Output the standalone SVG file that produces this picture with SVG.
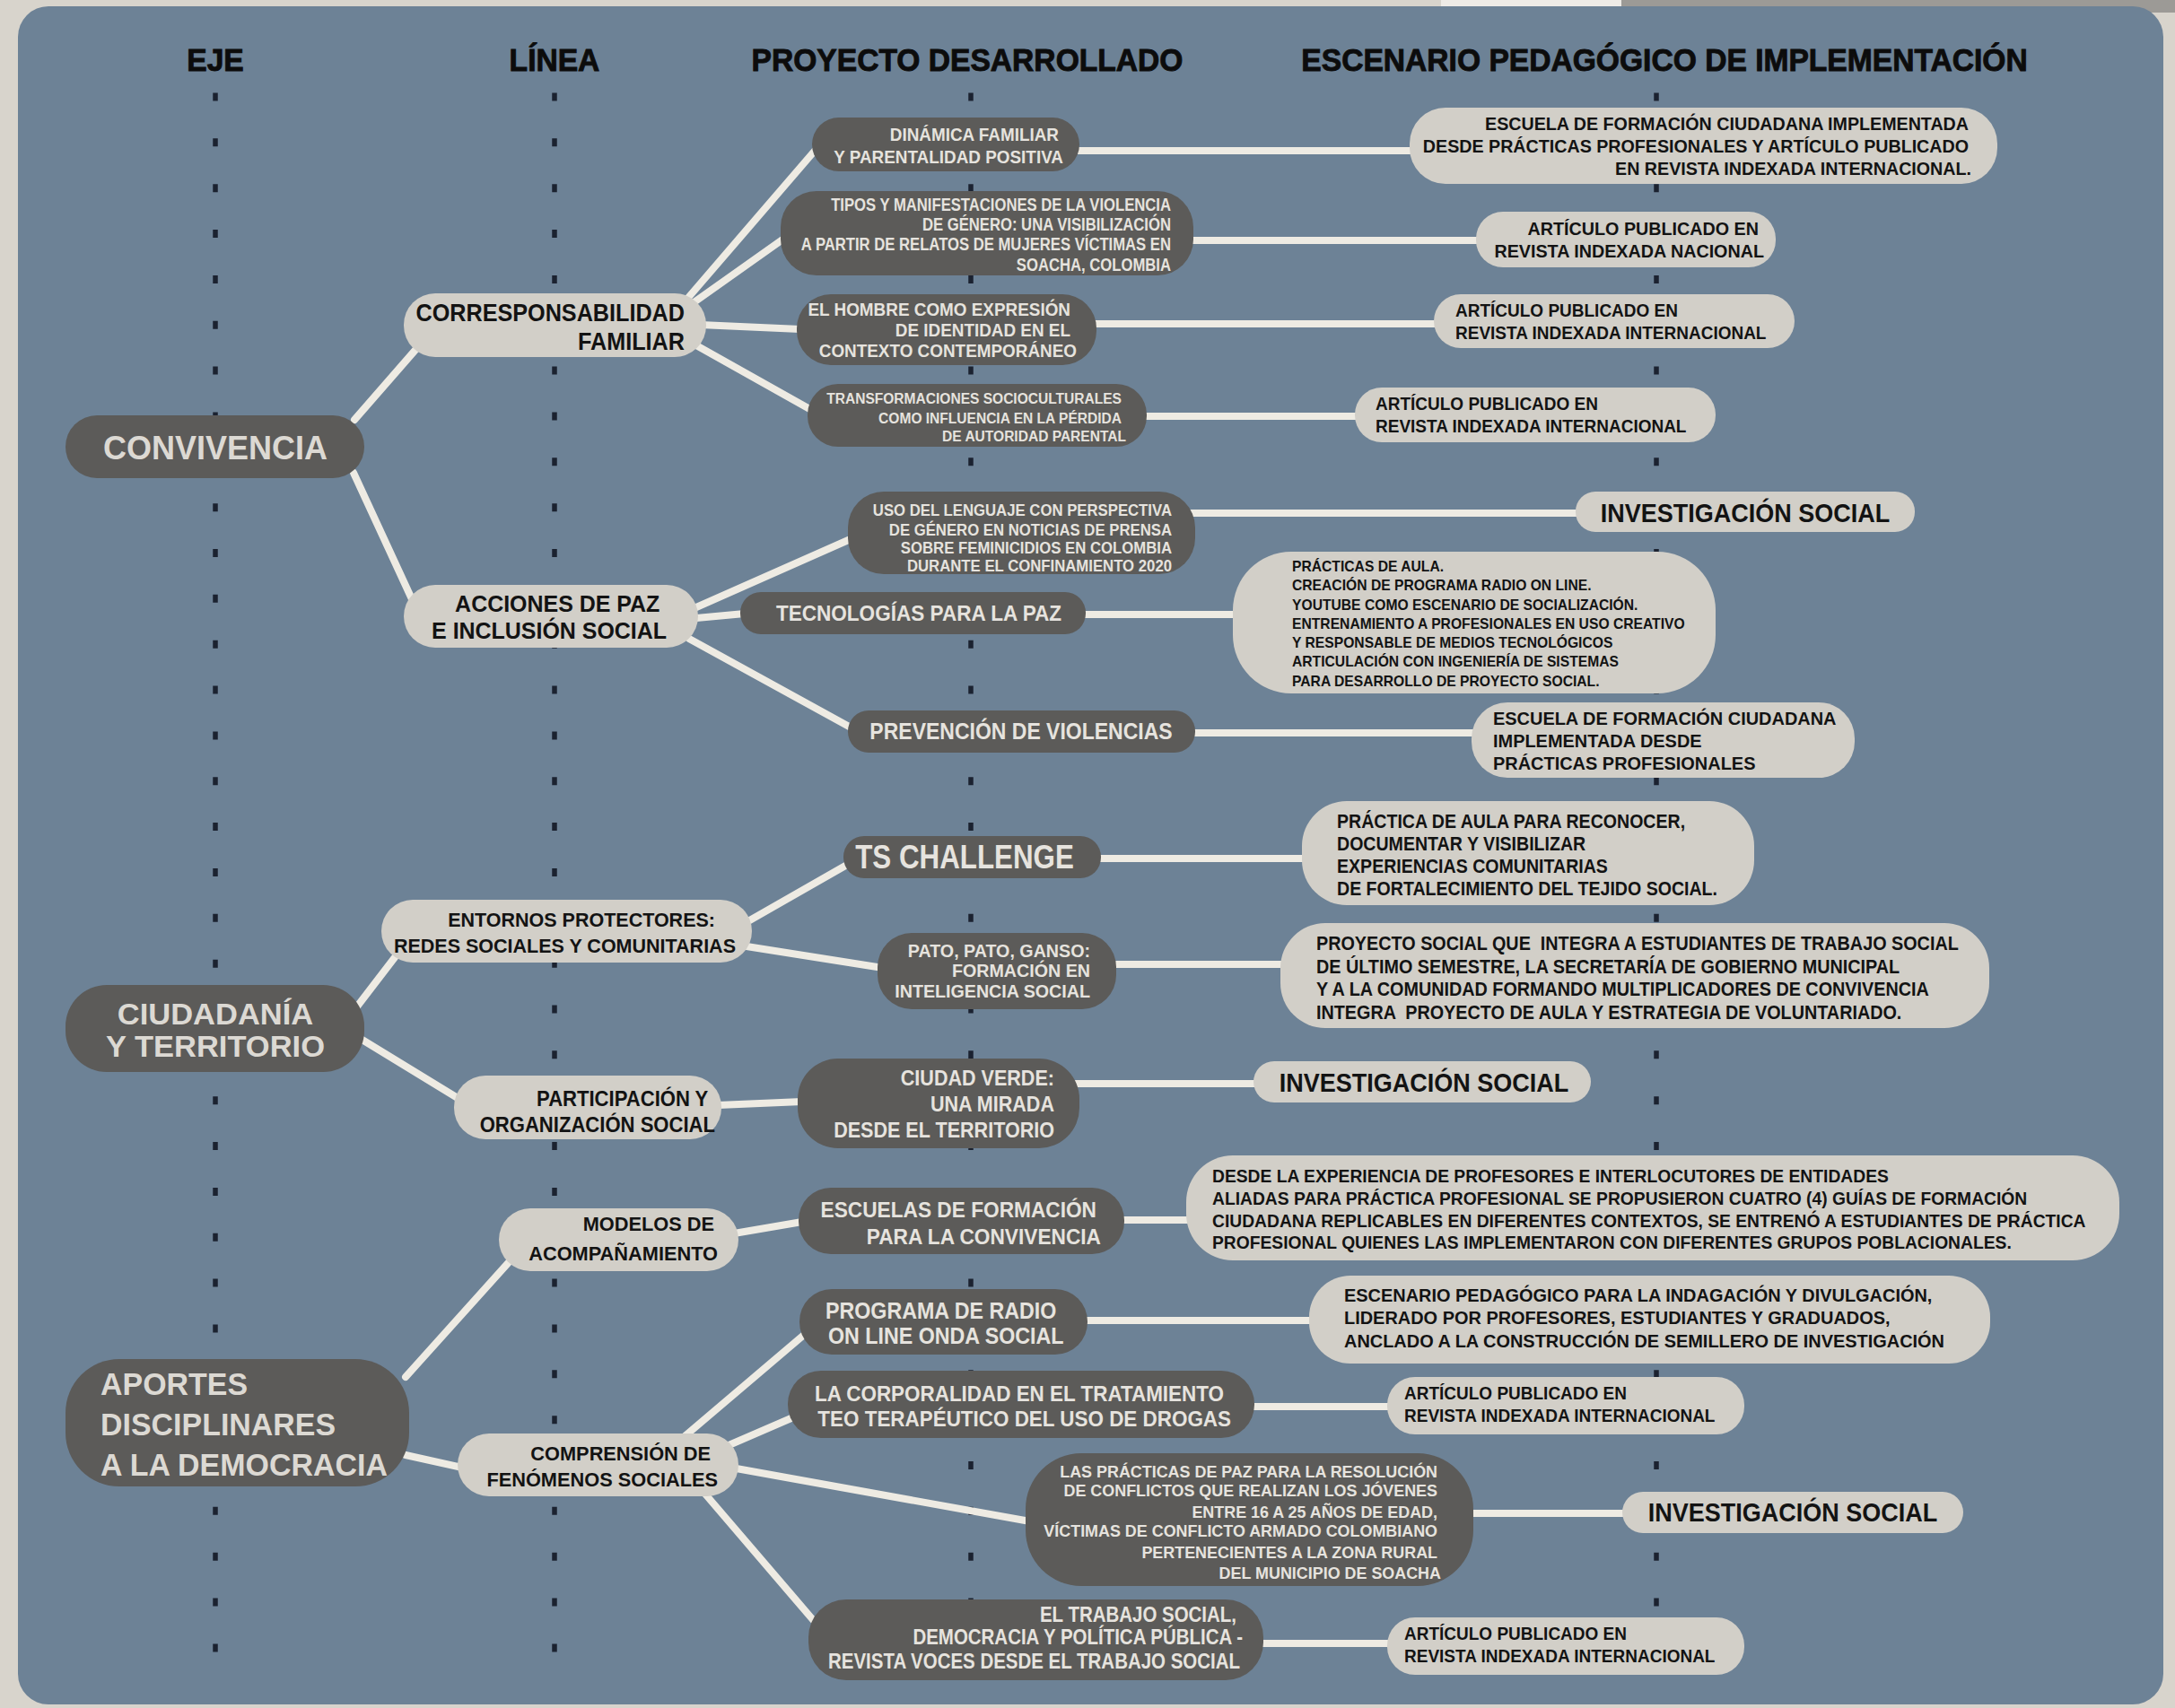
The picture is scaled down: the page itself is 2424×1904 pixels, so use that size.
<svg xmlns="http://www.w3.org/2000/svg" width="2424" height="1904" viewBox="0 0 2424 1904">
<style>
.lt{fill:#d2cfc8}
.dk{fill:#5c5b59}
.h{font-family:"Liberation Sans",Arial,sans-serif;font-weight:700;font-size:35px;fill:#0c0c0c;stroke:#0c0c0c;stroke-width:0.9;text-anchor:middle}
.e{font-family:"Liberation Sans",Arial,sans-serif;font-weight:700;fill:#dcd9d3}
.n{font-family:"Liberation Sans",Arial,sans-serif;font-weight:700}
.tl{fill:#131313}
.td{fill:#e6e3de}
.end{text-anchor:end}
.mid{text-anchor:middle}
#connectors line{stroke:#eeebe3;stroke-width:8;stroke-linecap:round}
.guide{stroke:#1b2230;stroke-width:5.5;stroke-dasharray:9 41.85}
</style>
<rect x="0" y="0" width="2424" height="1904" fill="#d8d4cc"/>
<rect x="1606" y="0" width="201" height="14" fill="#eeebe6"/>
<rect x="1807" y="0" width="617" height="14" fill="#9c9a96"/>
<rect x="20" y="7" width="2391" height="1893" rx="34" fill="#6d8296"/>
<g id="guides">
<line class="guide" x1="240" y1="103.5" x2="240" y2="1850"/>
<line class="guide" x1="618" y1="103.5" x2="618" y2="1850"/>
<line class="guide" x1="1082" y1="103.5" x2="1082" y2="1850"/>
<line class="guide" x1="1846" y1="103.5" x2="1846" y2="1850"/>
</g>
<g id="headers">
<text class="h" transform="translate(240 0) scale(0.96 1)" x="0" y="79">EJE</text>
<text class="h" transform="translate(618 0) scale(0.96 1)" x="0" y="79">LÍNEA</text>
<text class="h" transform="translate(1078 0) scale(0.96 1)" x="0" y="79">PROYECTO DESARROLLADO</text>
<text class="h" transform="translate(1855 0) scale(0.96 1)" x="0" y="79">ESCENARIO PEDAGÓGICO DE IMPLEMENTACIÓN</text>
</g>
<g id="connectors">
<line x1="395" y1="468" x2="470" y2="382"/>
<line x1="394" y1="527" x2="460" y2="670"/>
<line x1="398" y1="1122" x2="444" y2="1062"/>
<line x1="402" y1="1158" x2="510" y2="1224"/>
<line x1="452" y1="1535" x2="568" y2="1406"/>
<line x1="452" y1="1622" x2="515" y2="1636"/>
<line x1="766" y1="333" x2="908" y2="168"/>
<line x1="772" y1="338" x2="875" y2="265"/>
<line x1="780" y1="362" x2="892" y2="367"/>
<line x1="776" y1="385" x2="906" y2="458"/>
<line x1="776" y1="677" x2="950" y2="600"/>
<line x1="776" y1="689" x2="830" y2="684"/>
<line x1="768" y1="712" x2="950" y2="812"/>
<line x1="832" y1="1028" x2="944" y2="964"/>
<line x1="832" y1="1055" x2="984" y2="1079"/>
<line x1="800" y1="1232" x2="894" y2="1228"/>
<line x1="818" y1="1375" x2="894" y2="1362"/>
<line x1="762" y1="1602" x2="896" y2="1488"/>
<line x1="810" y1="1612" x2="884" y2="1580"/>
<line x1="815" y1="1636" x2="1148" y2="1696"/>
<line x1="783" y1="1662" x2="908" y2="1808"/>
<line x1="1200" y1="168" x2="1575" y2="168"/>
<line x1="1325" y1="268" x2="1650" y2="268"/>
<line x1="1218" y1="361" x2="1602" y2="361"/>
<line x1="1274" y1="464" x2="1514" y2="464"/>
<line x1="1328" y1="572" x2="1760" y2="572"/>
<line x1="1206" y1="685" x2="1380" y2="685"/>
<line x1="1328" y1="817" x2="1645" y2="817"/>
<line x1="1223" y1="957" x2="1456" y2="957"/>
<line x1="1240" y1="1075" x2="1432" y2="1075"/>
<line x1="1199" y1="1208" x2="1401" y2="1208"/>
<line x1="1249" y1="1360" x2="1327" y2="1360"/>
<line x1="1208" y1="1472" x2="1463" y2="1472"/>
<line x1="1394" y1="1568" x2="1550" y2="1568"/>
<line x1="1638" y1="1687" x2="1812" y2="1687"/>
<line x1="1404" y1="1832" x2="1550" y2="1832"/>
</g>
<g id="n-convivencia"><rect class="dk" x="73" y="463" width="333" height="70" rx="35"/>
<text class="e mid" font-size="36" x="240" y="512">CONVIVENCIA</text></g>
<g id="n-ciudadania"><rect class="dk" x="73" y="1098" width="333" height="97" rx="46"/>
<text class="e mid" font-size="33.5" transform="translate(240 0) scale(1.03 1)"><tspan x="0" y="1142">CIUDADANÍA</tspan><tspan x="0" y="1178">Y TERRITORIO</tspan></text></g>
<g id="n-aportes"><rect class="dk" x="73" y="1515" width="383" height="142" rx="60"/>
<text class="e" font-size="35" transform="translate(112 0) scale(0.97 1)"><tspan x="0" y="1555">APORTES</tspan><tspan x="0" y="1600">DISCIPLINARES</tspan><tspan x="0" y="1645">A LA DEMOCRACIA</tspan></text></g>
<g id="n-corresponsabilidad"><rect class="lt" x="450" y="327" width="337" height="71" rx="35"/>
<text class="n tl end" font-size="28" transform="translate(763 0) scale(0.9 1)"><tspan x="0" y="358">CORRESPONSABILIDAD</tspan><tspan x="0" y="390">FAMILIAR</tspan></text></g>
<g id="n-acciones"><rect class="lt" x="450" y="652" width="328" height="70" rx="35"/>
<text class="n tl end" font-size="26" transform="translate(743 0) scale(0.96 1)"><tspan x="-8" y="682">ACCIONES DE PAZ</tspan><tspan x="0" y="712">E INCLUSIÓN SOCIAL</tspan></text></g>
<g id="n-entornos"><rect class="lt" x="425" y="1003" width="413" height="70" rx="35"/>
<text class="n tl end" font-size="21.5" transform="translate(820 0)"><tspan x="-23" y="1033">ENTORNOS PROTECTORES:</tspan><tspan x="0" y="1062">REDES SOCIALES Y COMUNITARIAS</tspan></text></g>
<g id="n-participacion"><rect class="lt" x="506" y="1199" width="298" height="71" rx="35"/>
<text class="n tl end" font-size="23" transform="translate(797 0) scale(0.96 1)"><tspan x="-8" y="1233">PARTICIPACIÓN Y</tspan><tspan x="0" y="1262">ORGANIZACIÓN SOCIAL</tspan></text></g>
<g id="n-modelos"><rect class="lt" x="556" y="1347" width="267" height="70" rx="35"/>
<text class="n tl end" font-size="22" transform="translate(800 0) scale(0.99 1)"><tspan x="-4" y="1372">MODELOS DE</tspan><tspan x="0" y="1405">ACOMPAÑAMIENTO</tspan></text></g>
<g id="n-comprension"><rect class="lt" x="510" y="1598" width="313" height="70" rx="35"/>
<text class="n tl end" font-size="22" transform="translate(800 0) scale(0.99 1)"><tspan x="-8" y="1628">COMPRENSIÓN DE</tspan><tspan x="0" y="1657">FENÓMENOS SOCIALES</tspan></text></g>
<g id="n-dinamica"><rect class="dk" x="905" y="131" width="298" height="60" rx="30"/>
<text class="n td end" font-size="21" transform="translate(1185 0) scale(0.9 1)"><tspan x="-5.6" y="157">DINÁMICA FAMILIAR</tspan><tspan x="0" y="182">Y PARENTALIDAD POSITIVA</tspan></text></g>
<g id="n-tipos"><rect class="dk" x="870" y="213" width="460" height="94" rx="40"/>
<text class="n td end" font-size="19.5" transform="translate(1305 0) scale(0.855 1)"><tspan x="0" y="235">TIPOS Y MANIFESTACIONES DE LA VIOLENCIA</tspan><tspan x="0" y="257">DE GÉNERO: UNA VISIBILIZACIÓN</tspan><tspan x="0" y="279">A PARTIR DE RELATOS DE MUJERES VÍCTIMAS EN</tspan><tspan x="0" y="302">SOACHA, COLOMBIA</tspan></text></g>
<g id="n-hombre"><rect class="dk" x="888" y="328" width="334" height="79" rx="38"/>
<text class="n td end" font-size="21" transform="translate(1200 0) scale(0.9 1)"><tspan x="-7.8" y="352">EL HOMBRE COMO EXPRESIÓN</tspan><tspan x="-7.8" y="375">DE IDENTIDAD EN EL</tspan><tspan x="0" y="398">CONTEXTO CONTEMPORÁNEO</tspan></text></g>
<g id="n-transformaciones"><rect class="dk" x="900" y="428" width="378" height="70" rx="34"/>
<text class="n td end" font-size="17" transform="translate(1255 0) scale(0.915 1)"><tspan x="-5.5" y="450">TRANSFORMACIONES SOCIOCULTURALES</tspan><tspan x="-5.5" y="472">COMO INFLUENCIA EN LA PÉRDIDA</tspan><tspan x="0" y="492">DE AUTORIDAD PARENTAL</tspan></text></g>
<g id="n-uso"><rect class="dk" x="945" y="548" width="387" height="92" rx="40"/>
<text class="n td end" font-size="18.6" transform="translate(1306 0) scale(0.9 1)"><tspan x="0" y="575">USO DEL LENGUAJE CON PERSPECTIVA</tspan><tspan x="0" y="597">DE GÉNERO EN NOTICIAS DE PRENSA</tspan><tspan x="0" y="617">SOBRE FEMINICIDIOS EN COLOMBIA</tspan><tspan x="0" y="637">DURANTE EL CONFINAMIENTO 2020</tspan></text></g>
<g id="n-tecnologias"><rect class="dk" x="825" y="660" width="385" height="47" rx="23"/>
<text class="n td mid" font-size="24" transform="translate(1024 0) scale(0.94 1)" x="0" y="692">TECNOLOGÍAS PARA LA PAZ</text></g>
<g id="n-prevencion"><rect class="dk" x="945" y="792" width="387" height="47" rx="23"/>
<text class="n td mid" font-size="25" transform="translate(1138 0) scale(0.92 1)" x="0" y="824">PREVENCIÓN DE VIOLENCIAS</text></g>
<g id="n-ts"><rect class="dk" x="940" y="932" width="287" height="47" rx="23"/>
<text class="n td mid" font-size="36" transform="translate(1075 0) scale(0.87 1)" x="0" y="968">TS CHALLENGE</text></g>
<g id="n-pato"><rect class="dk" x="978" y="1040" width="266" height="85" rx="38"/>
<text class="n td end" font-size="20.5" transform="translate(1215 0) scale(0.96 1)"><tspan x="0" y="1067">PATO, PATO, GANSO:</tspan><tspan x="0" y="1089">FORMACIÓN EN</tspan><tspan x="0" y="1112">INTELIGENCIA SOCIAL</tspan></text></g>
<g id="n-ciudadverde"><rect class="dk" x="889" y="1180" width="314" height="100" rx="45"/>
<text class="n td end" font-size="23.7" transform="translate(1175 0) scale(0.91 1)"><tspan x="0" y="1210">CIUDAD VERDE:</tspan><tspan x="0" y="1239">UNA MIRADA</tspan><tspan x="0" y="1268">DESDE EL TERRITORIO</tspan></text></g>
<g id="n-escuelas"><rect class="dk" x="890" y="1324" width="363" height="74" rx="36"/>
<text class="n td end" font-size="24.4" transform="translate(1227 0) scale(0.93 1)"><tspan x="-5.4" y="1357">ESCUELAS DE FORMACIÓN</tspan><tspan x="0" y="1387">PARA LA CONVIVENCIA</tspan></text></g>
<g id="n-programa"><rect class="dk" x="891" y="1437" width="321" height="73" rx="36"/>
<text class="n td" font-size="25" transform="translate(920 0) scale(0.93 1)"><tspan x="0" y="1470">PROGRAMA DE RADIO</tspan><tspan x="3.2" y="1498">ON LINE ONDA SOCIAL</tspan></text></g>
<g id="n-corporalidad"><rect class="dk" x="878" y="1528" width="520" height="75" rx="37"/>
<text class="n td end" font-size="24" transform="translate(1372 0) scale(0.935 1)"><tspan x="-8.6" y="1562">LA CORPORALIDAD EN EL TRATAMIENTO</tspan><tspan x="0" y="1590">TEO TERAPÉUTICO DEL USO DE DROGAS</tspan></text></g>
<g id="n-practicaspaz"><rect class="dk" x="1143" y="1620" width="499" height="148" rx="62"/>
<text class="n td end" font-size="19" transform="translate(1602 0) scale(0.943 1)"><tspan x="0" y="1647">LAS PRÁCTICAS DE PAZ PARA LA RESOLUCIÓN</tspan><tspan x="0" y="1668">DE CONFLICTOS QUE REALIZAN LOS JÓVENES</tspan><tspan x="0" y="1692">ENTRE 16 A 25 AÑOS DE EDAD,</tspan><tspan x="0" y="1713">VÍCTIMAS DE CONFLICTO ARMADO COLOMBIANO</tspan><tspan x="0" y="1737">PERTENECIENTES A LA ZONA RURAL</tspan><tspan x="4.2" y="1760">DEL MUNICIPIO DE SOACHA</tspan></text></g>
<g id="n-trabajo"><rect class="dk" x="901" y="1783" width="507" height="90" rx="42"/>
<text class="n td end" font-size="23" transform="translate(1382 0) scale(0.89 1)"><tspan x="-4.5" y="1808">EL TRABAJO SOCIAL,</tspan><tspan x="3.4" y="1833">DEMOCRACIA Y POLÍTICA PÚBLICA -</tspan><tspan x="0" y="1860">REVISTA VOCES DESDE EL TRABAJO SOCIAL</tspan></text></g>
<g id="n-esc1"><rect class="lt" x="1571" y="120" width="655" height="85" rx="40"/>
<text class="n tl end" font-size="20.5" transform="translate(2197 0) scale(0.96 1)"><tspan x="-3.1" y="145">ESCUELA DE FORMACIÓN CIUDADANA IMPLEMENTADA</tspan><tspan x="-3.1" y="170">DESDE PRÁCTICAS PROFESIONALES Y ARTÍCULO PUBLICADO</tspan><tspan x="0" y="195">EN REVISTA INDEXADA INTERNACIONAL.</tspan></text></g>
<g id="n-esc2"><rect class="lt" x="1645" y="236" width="334" height="62" rx="30"/>
<text class="n tl end" font-size="21" transform="translate(1966 0) scale(0.94 1)"><tspan x="-6.4" y="262">ARTÍCULO PUBLICADO EN</tspan><tspan x="0" y="287">REVISTA INDEXADA NACIONAL</tspan></text></g>
<g id="n-esc3"><rect class="lt" x="1598" y="328" width="402" height="60" rx="30"/>
<text class="n tl" font-size="21" transform="translate(1622 0) scale(0.905 1)"><tspan x="0" y="353">ARTÍCULO PUBLICADO EN</tspan><tspan x="0" y="378">REVISTA INDEXADA INTERNACIONAL</tspan></text></g>
<g id="n-esc4"><rect class="lt" x="1510" y="432" width="402" height="61" rx="30"/>
<text class="n tl" font-size="21" transform="translate(1533 0) scale(0.905 1)"><tspan x="0" y="457">ARTÍCULO PUBLICADO EN</tspan><tspan x="0" y="482">REVISTA INDEXADA INTERNACIONAL</tspan></text></g>
<g id="n-esc5"><rect class="lt" x="1756" y="548" width="378" height="45" rx="22"/>
<text class="n tl mid" font-size="30" transform="translate(1945 0) scale(0.9 1)" x="0" y="582">INVESTIGACIÓN SOCIAL</text></g>
<g id="n-esc6"><rect class="lt" x="1374" y="615" width="538" height="158" rx="65"/>
<text class="n tl" font-size="16.5" transform="translate(1440 0) scale(0.95 1)"><tspan x="0" y="637">PRÁCTICAS DE AULA.</tspan><tspan x="0" y="658">CREACIÓN DE PROGRAMA RADIO ON LINE.</tspan><tspan x="0" y="680">YOUTUBE COMO ESCENARIO DE SOCIALIZACIÓN.</tspan><tspan x="0" y="701">ENTRENAMIENTO A PROFESIONALES EN USO CREATIVO</tspan><tspan x="0" y="722">Y RESPONSABLE DE MEDIOS TECNOLÓGICOS</tspan><tspan x="0" y="743">ARTICULACIÓN CON INGENIERÍA DE SISTEMAS</tspan><tspan x="0" y="765">PARA DESARROLLO DE PROYECTO SOCIAL.</tspan></text></g>
<g id="n-esc7"><rect class="lt" x="1640" y="783" width="427" height="84" rx="40"/>
<text class="n tl" font-size="21" transform="translate(1664 0) scale(0.95 1)"><tspan x="0" y="808">ESCUELA DE FORMACIÓN CIUDADANA</tspan><tspan x="0" y="833">IMPLEMENTADA DESDE</tspan><tspan x="0" y="858">PRÁCTICAS PROFESIONALES</tspan></text></g>
<g id="n-esc8"><rect class="lt" x="1451" y="893" width="504" height="116" rx="50"/>
<text class="n tl" font-size="22" transform="translate(1490 0) scale(0.89 1)"><tspan x="0" y="923">PRÁCTICA DE AULA PARA RECONOCER,</tspan><tspan x="0" y="948">DOCUMENTAR Y VISIBILIZAR</tspan><tspan x="0" y="973">EXPERIENCIAS COMUNITARIAS</tspan><tspan x="0" y="998">DE FORTALECIMIENTO DEL TEJIDO SOCIAL.</tspan></text></g>
<g id="n-esc9"><rect class="lt" x="1427" y="1029" width="790" height="117" rx="50"/>
<text class="n tl" font-size="22" transform="translate(1467 0) scale(0.9 1)" xml:space="preserve"><tspan x="0" y="1059">PROYECTO SOCIAL QUE  INTEGRA A ESTUDIANTES DE TRABAJO SOCIAL</tspan><tspan x="0" y="1085">DE ÚLTIMO SEMESTRE, LA SECRETARÍA DE GOBIERNO MUNICIPAL</tspan><tspan x="0" y="1110">Y A LA COMUNIDAD FORMANDO MULTIPLICADORES DE CONVIVENCIA</tspan><tspan x="0" y="1136">INTEGRA  PROYECTO DE AULA Y ESTRATEGIA DE VOLUNTARIADO.</tspan></text></g>
<g id="n-esc10"><rect class="lt" x="1397" y="1183" width="376" height="46" rx="23"/>
<text class="n tl mid" font-size="30" transform="translate(1587 0) scale(0.9 1)" x="0" y="1217">INVESTIGACIÓN SOCIAL</text></g>
<g id="n-esc11"><rect class="lt" x="1322" y="1288" width="1040" height="117" rx="52"/>
<text class="n tl" font-size="21" transform="translate(1351 0) scale(0.918 1)"><tspan x="0" y="1318">DESDE LA EXPERIENCIA DE PROFESORES E INTERLOCUTORES DE ENTIDADES</tspan><tspan x="0" y="1343">ALIADAS PARA PRÁCTICA PROFESIONAL SE PROPUSIERON CUATRO (4) GUÍAS DE FORMACIÓN</tspan><tspan x="0" y="1368">CIUDADANA REPLICABLES EN DIFERENTES CONTEXTOS, SE ENTRENÓ A ESTUDIANTES DE PRÁCTICA</tspan><tspan x="0" y="1392">PROFESIONAL QUIENES LAS IMPLEMENTARON CON DIFERENTES GRUPOS POBLACIONALES.</tspan></text></g>
<g id="n-esc12"><rect class="lt" x="1459" y="1422" width="759" height="98" rx="46"/>
<text class="n tl" font-size="21" transform="translate(1498 0) scale(0.95 1)"><tspan x="0" y="1451">ESCENARIO PEDAGÓGICO PARA LA INDAGACIÓN Y DIVULGACIÓN,</tspan><tspan x="0" y="1476">LIDERADO POR PROFESORES, ESTUDIANTES Y GRADUADOS,</tspan><tspan x="0" y="1502">ANCLADO A LA CONSTRUCCIÓN DE SEMILLERO DE INVESTIGACIÓN</tspan></text></g>
<g id="n-esc13"><rect class="lt" x="1546" y="1535" width="398" height="64" rx="31"/>
<text class="n tl" font-size="21" transform="translate(1565 0) scale(0.905 1)"><tspan x="0" y="1560">ARTÍCULO PUBLICADO EN</tspan><tspan x="0" y="1585">REVISTA INDEXADA INTERNACIONAL</tspan></text></g>
<g id="n-esc14"><rect class="lt" x="1808" y="1663" width="380" height="46" rx="23"/>
<text class="n tl mid" font-size="30" transform="translate(1998 0) scale(0.9 1)" x="0" y="1696">INVESTIGACIÓN SOCIAL</text></g>
<g id="n-esc15"><rect class="lt" x="1546" y="1803" width="398" height="64" rx="31"/>
<text class="n tl" font-size="21" transform="translate(1565 0) scale(0.905 1)"><tspan x="0" y="1828">ARTÍCULO PUBLICADO EN</tspan><tspan x="0" y="1853">REVISTA INDEXADA INTERNACIONAL</tspan></text></g>
</svg>
